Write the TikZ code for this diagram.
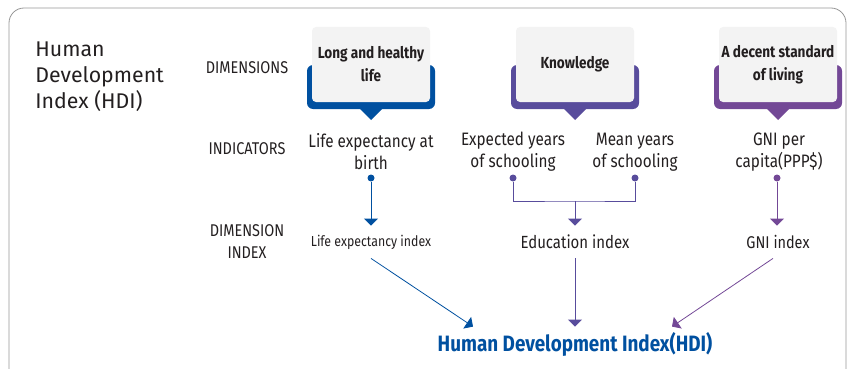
\documentclass[tikz,border=0pt]{standalone}
\usepackage{fontspec}
\setmainfont{Fira Sans}
\newfontfamily\narrowfont{Fira Sans}[FakeStretch=0.85]
\usepackage{tikz}
\usetikzlibrary{positioning}
\usetikzlibrary{arrows.meta}

\definecolor{lifeblue}{RGB}{0,80,160}
\definecolor{knowpurple}{RGB}{88,76,156}
\definecolor{gnipurple}{RGB}{115,72,150}
\definecolor{boxgray}{RGB}{243,243,243}
\definecolor{inkblack}{RGB}{35,31,32}
\definecolor{framegray}{RGB}{150,150,150}

\tikzset{
  dimbox/.style={rounded corners=4pt,fill=boxgray,minimum width=118,minimum height=75,inner sep=2pt,
    text=inkblack,font=\narrowfont\bfseries\fontsize{16}{23}\selectfont},
  indic/.style={text=inkblack,font=\narrowfont\fontsize{18}{22}\selectfont},
  dimidx/.style={minimum height=32,inner sep=0pt,text=inkblack},
  rowlabel/.style={text=inkblack,font=\narrowfont\fontsize{17}{22}\selectfont},
  dot/.style={circle,fill,inner sep=0pt,minimum size=7},
}

\begin{document}
\begin{tikzpicture}[x=1pt,y=-1pt,line width=0.8pt,>={Triangle[width=14pt,length=7pt]},align=center]
  \path[use as bounding box,clip] (0,0) rectangle (849,369);
  \draw[framegray,rounded corners=15] (9,372) -- (9,8) -- (846,8) -- (846,372);

  % coloured backs of the dimension boxes
  \foreach \c/\col in {371/lifeblue,575/knowpurple,778/gnipurple} {
    \fill[\col,rounded corners=6] (\c-64,65) -- (\c-64,109) -- (\c+64,109) -- (\c+64,65) -- cycle;
    \fill[\col] (\c-12,108) -- (\c,120) -- (\c+12,108) -- cycle;
  }

  \node (title) [anchor=north west,align=left,inner sep=0pt,text=inkblack,font=\fontsize{21.3}{26}\selectfont] at (35,41) {Human\\Development\\Index (HDI)};

  \node (rowdim) [rowlabel] at (247,68)  {DIMENSIONS};
  \node (rowind) [rowlabel] at (247,149) {INDICATORS};
  \node (rowidx) [rowlabel] at (247,242) {DIMENSION\\INDEX};

  \node (life)   [dimbox] at (371,64.5) {Long and healthy\\life};
  \node (know)   [dimbox] at (575,64.5) {Knowledge};
  \node (living) [dimbox] at (778,64.5) {A decent standard\\of living};

  \node (lifeexp)   [indic] at (371,152) {Life expectancy at\\birth};
  \node (expyears)  [indic] at (513,152) {Expected years\\of schooling};
  \node (meanyears) [indic] at (635,152) {Mean years\\of schooling};
  \node (gnipc)     [indic] at (779,152) {GNI per\\capita(PPP\$)};

  \node (lifedot) [dot,lifeblue]   at (371,178) {};
  \node (expdot)  [dot,knowpurple] at (513,178) {};
  \node (meandot) [dot,knowpurple] at (635,178) {};
  \node (gnidot)  [dot,gnipurple]  at (777,178) {};
  \coordinate (edujoin) at (575,201);

  \node (lifeidx) [dimidx,font=\narrowfont\fontsize{14.5}{18}\selectfont] at (371,242) {Life expectancy index};
  \node (eduidx)  [dimidx,font=\narrowfont\fontsize{17.6}{20}\selectfont] at (575,242) {Education index};
  \node (gniidx)  [dimidx,font=\narrowfont\fontsize{17}{20}\selectfont] at (778,242) {GNI index};

  \node (hdi) [minimum height=34,inner sep=0pt,text=lifeblue,font=\narrowfont\bfseries\fontsize{22.2}{25}\selectfont] at (575,344) {Human Development Index(HDI)};

  \draw[->,lifeblue] (lifedot) -- (lifeidx);
  \draw[knowpurple] (expdot) |- (edujoin) -| (meandot);
  \draw[->,knowpurple] (edujoin) -- (eduidx);
  \draw[->,gnipurple] (gnidot) -- (gnidot |- gniidx.north);

  \draw[->,lifeblue] (lifeidx.south) -- ([xshift=-102]hdi.north);
  \draw[->,knowpurple] (eduidx) -- (hdi);
  \draw[->,gnipurple] ([xshift=-5]gniidx.south) -- ([xshift=97]hdi.north);
\end{tikzpicture}
\end{document}
